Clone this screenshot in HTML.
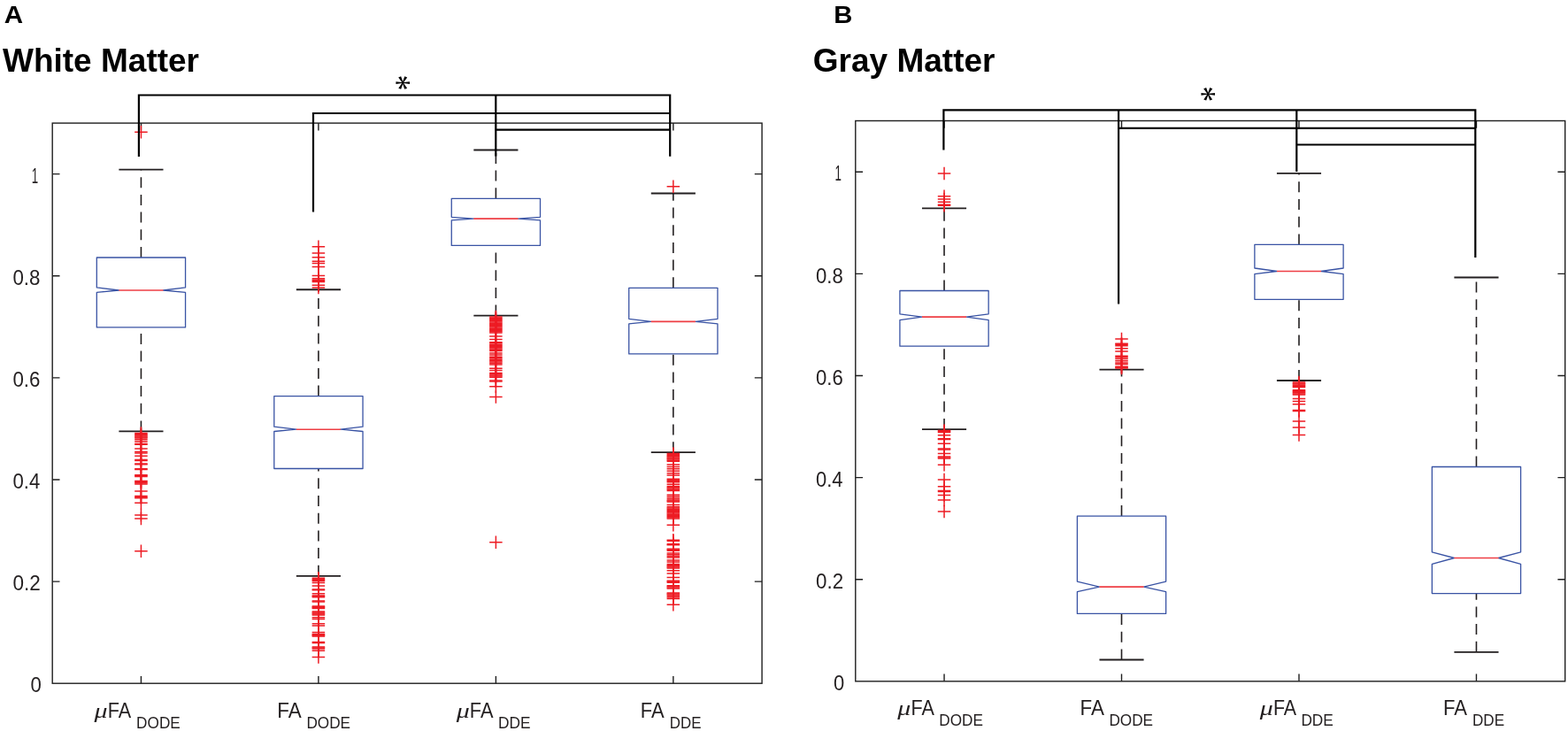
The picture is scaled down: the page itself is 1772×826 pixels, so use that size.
<!DOCTYPE html>
<html lang="en">
<head>
<meta charset="utf-8">
<title>White Matter / Gray Matter boxplots</title>
<style>
html,body{margin:0;padding:0;background:#fff;}
body{width:1772px;height:826px;overflow:hidden;}
svg{display:block;}
</style>
</head>
<body>
<svg width="1772" height="826" viewBox="0 0 1772 826">
<rect width="1772" height="826" fill="#ffffff"/>
<g stroke="#1e1e1e" stroke-width="1.4" fill="none">
<rect x="59.2" y="139.1" width="801.9" height="633.1"/>
<path d="M159.44 772.2V763.9M159.44 139.1V147.4M359.91 772.2V763.9M359.91 139.1V147.4M560.39 772.2V763.9M560.39 139.1V147.4M760.86 772.2V763.9M760.86 139.1V147.4M59.2 657.08H67.5M861.1 657.08H852.8M59.2 541.96H67.5M861.1 541.96H852.8M59.2 426.84H67.5M861.1 426.84H852.8M59.2 311.72H67.5M861.1 311.72H852.8M59.2 196.6H67.5M861.1 196.6H852.8"/>
</g>
<g stroke="#231f20" stroke-width="1.6" fill="none">
<path d="M159.44 291V191.7" stroke-dasharray="12 7.7"/>
<path d="M159.44 487.4V369.9" stroke-dasharray="12 7.7"/>
<path d="M134.38 191.7H184.5M134.38 487.4H184.5" stroke-width="1.8"/>
</g>
<path d="M109.32 291H209.56V324.9L184.5 328L209.56 330.4V369.9H109.32V330.4L134.38 328L109.32 324.9Z" stroke="#3953a4" stroke-width="1.3" fill="none" stroke-linejoin="round"/>
<path d="M134.38 328H184.5" stroke="#ee3e44" stroke-width="1.6" fill="none"/>
<g stroke="#231f20" stroke-width="1.6" fill="none">
<path d="M359.91 447.6V327.25" stroke-dasharray="12 7.7"/>
<path d="M359.91 650.8V529.5" stroke-dasharray="12 7.7"/>
<path d="M334.85 327.25H384.97M334.85 650.8H384.97" stroke-width="1.8"/>
</g>
<path d="M309.79 447.6H410.03V482.2L384.97 485.2L410.03 487.5V529.5H309.79V487.5L334.85 485.2L309.79 482.2Z" stroke="#3953a4" stroke-width="1.3" fill="none" stroke-linejoin="round"/>
<path d="M334.85 485.2H384.97" stroke="#ee3e44" stroke-width="1.6" fill="none"/>
<g stroke="#231f20" stroke-width="1.6" fill="none">
<path d="M560.39 224.3V169.5" stroke-dasharray="12 7.7"/>
<path d="M560.39 356.6V277.4" stroke-dasharray="12 7.7"/>
<path d="M535.33 169.5H585.45M535.33 356.6H585.45" stroke-width="1.8"/>
</g>
<path d="M510.27 224.3H610.51V245.3L585.45 247.1L610.51 248.9V277.4H510.27V248.9L535.33 247.1L510.27 245.3Z" stroke="#3953a4" stroke-width="1.3" fill="none" stroke-linejoin="round"/>
<path d="M535.33 247.1H585.45" stroke="#ee3e44" stroke-width="1.6" fill="none"/>
<g stroke="#231f20" stroke-width="1.6" fill="none">
<path d="M760.86 325.3V218.5" stroke-dasharray="12 7.7"/>
<path d="M760.86 511.2V399.9" stroke-dasharray="12 7.7"/>
<path d="M735.8 218.5H785.92M735.8 511.2H785.92" stroke-width="1.8"/>
</g>
<path d="M710.74 325.3H810.98V360.3L785.92 363.4L810.98 365.9V399.9H710.74V365.9L735.8 363.4L710.74 360.3Z" stroke="#3953a4" stroke-width="1.3" fill="none" stroke-linejoin="round"/>
<path d="M735.8 363.4H785.92" stroke="#ee3e44" stroke-width="1.6" fill="none"/>
<g stroke="#ed1c24" stroke-width="1.5" fill="none">
<path d="M152.19 149.3H166.69M159.44 142.05V156.55"/>
<path d="M152.19 489.6H166.69M159.44 482.35V496.85"/>
<path d="M152.19 490.7H166.69M159.44 483.45V497.95"/>
<path d="M152.19 491.8H166.69M159.44 484.55V499.05"/>
<path d="M152.19 492.9H166.69M159.44 485.65V500.15"/>
<path d="M152.19 494H166.69M159.44 486.75V501.25"/>
<path d="M152.19 495.1H166.69M159.44 487.85V502.35"/>
<path d="M152.19 496.7H166.69M159.44 489.45V503.95"/>
<path d="M152.19 498.9H166.69M159.44 491.65V506.15"/>
<path d="M152.19 501.4H166.69M159.44 494.15V508.65"/>
<path d="M152.19 502.2H166.69M159.44 494.95V509.45"/>
<path d="M152.19 506.9H166.69M159.44 499.65V514.15"/>
<path d="M152.19 510.5H166.69M159.44 503.25V517.75"/>
<path d="M152.19 512H166.69M159.44 504.75V519.25"/>
<path d="M152.19 515.3H166.69M159.44 508.05V522.55"/>
<path d="M152.19 519.6H166.69M159.44 512.35V526.85"/>
<path d="M152.19 520.4H166.69M159.44 513.15V527.65"/>
<path d="M152.19 523.9H166.69M159.44 516.65V531.15"/>
<path d="M152.19 524.7H166.69M159.44 517.45V531.95"/>
<path d="M152.19 529.7H166.69M159.44 522.45V536.95"/>
<path d="M152.19 530.5H166.69M159.44 523.25V537.75"/>
<path d="M152.19 536.7H166.69M159.44 529.45V543.95"/>
<path d="M152.19 537.55H166.69M159.44 530.3V544.8"/>
<path d="M152.19 538.4H166.69M159.44 531.15V545.65"/>
<path d="M152.19 543.4H166.69M159.44 536.15V550.65"/>
<path d="M152.19 544.6H166.69M159.44 537.35V551.85"/>
<path d="M152.19 545.8H166.69M159.44 538.55V553.05"/>
<path d="M152.19 547H166.69M159.44 539.75V554.25"/>
<path d="M152.19 555.1H166.69M159.44 547.85V562.35"/>
<path d="M152.19 560.6H166.69M159.44 553.35V567.85"/>
<path d="M152.19 561.7H166.69M159.44 554.45V568.95"/>
<path d="M152.19 562.8H166.69M159.44 555.55V570.05"/>
<path d="M152.19 568.2H166.69M159.44 560.95V575.45"/>
<path d="M152.19 582.1H166.69M159.44 574.85V589.35"/>
<path d="M152.19 586.1H166.69M159.44 578.85V593.35"/>
<path d="M152.19 622.8H166.69M159.44 615.55V630.05"/>
</g>
<g stroke="#ed1c24" stroke-width="1.5" fill="none">
<path d="M352.66 278.8H367.16M359.91 271.55V286.05"/>
<path d="M352.66 286.1H367.16M359.91 278.85V293.35"/>
<path d="M352.66 290.7H367.16M359.91 283.45V297.95"/>
<path d="M352.66 295.2H367.16M359.91 287.95V302.45"/>
<path d="M352.66 297.4H367.16M359.91 290.15V304.65"/>
<path d="M352.66 301.5H367.16M359.91 294.25V308.75"/>
<path d="M352.66 311.5H367.16M359.91 304.25V318.75"/>
<path d="M352.66 314.7H367.16M359.91 307.45V321.95"/>
<path d="M352.66 316.3H367.16M359.91 309.05V323.55"/>
<path d="M352.66 317.4H367.16M359.91 310.15V324.65"/>
<path d="M352.66 318.5H367.16M359.91 311.25V325.75"/>
<path d="M352.66 322.2H367.16M359.91 314.95V329.45"/>
<path d="M352.66 324.9H367.16M359.91 317.65V332.15"/>
<path d="M352.66 653.3H367.16M359.91 646.05V660.55"/>
<path d="M352.66 654.4H367.16M359.91 647.15V661.65"/>
<path d="M352.66 655.5H367.16M359.91 648.25V662.75"/>
<path d="M352.66 656.6H367.16M359.91 649.35V663.85"/>
<path d="M352.66 658.6H367.16M359.91 651.35V665.85"/>
<path d="M352.66 662.1H367.16M359.91 654.85V669.35"/>
<path d="M352.66 666H367.16M359.91 658.75V673.25"/>
<path d="M352.66 666.8H367.16M359.91 659.55V674.05"/>
<path d="M352.66 670.8H367.16M359.91 663.55V678.05"/>
<path d="M352.66 672.9H367.16M359.91 665.65V680.15"/>
<path d="M352.66 673.8H367.16M359.91 666.55V681.05"/>
<path d="M352.66 674.7H367.16M359.91 667.45V681.95"/>
<path d="M352.66 679.1H367.16M359.91 671.85V686.35"/>
<path d="M352.66 679.9H367.16M359.91 672.65V687.15"/>
<path d="M352.66 684.9H367.16M359.91 677.65V692.15"/>
<path d="M352.66 685.8H367.16M359.91 678.55V693.05"/>
<path d="M352.66 686.7H367.16M359.91 679.45V693.95"/>
<path d="M352.66 687.6H367.16M359.91 680.35V694.85"/>
<path d="M352.66 691.1H367.16M359.91 683.85V698.35"/>
<path d="M352.66 692.05H367.16M359.91 684.8V699.3"/>
<path d="M352.66 693H367.16M359.91 685.75V700.25"/>
<path d="M352.66 693.95H367.16M359.91 686.7V701.2"/>
<path d="M352.66 694.9H367.16M359.91 687.65V702.15"/>
<path d="M352.66 697.8H367.16M359.91 690.55V705.05"/>
<path d="M352.66 699.6H367.16M359.91 692.35V706.85"/>
<path d="M352.66 704.7H367.16M359.91 697.45V711.95"/>
<path d="M352.66 707.1H367.16M359.91 699.85V714.35"/>
<path d="M352.66 714.4H367.16M359.91 707.15V721.65"/>
<path d="M352.66 716.5H367.16M359.91 709.25V723.75"/>
<path d="M352.66 717.35H367.16M359.91 710.1V724.6"/>
<path d="M352.66 718.2H367.16M359.91 710.95V725.45"/>
<path d="M352.66 719.05H367.16M359.91 711.8V726.3"/>
<path d="M352.66 725.6H367.16M359.91 718.35V732.85"/>
<path d="M352.66 726.4H367.16M359.91 719.15V733.65"/>
<path d="M352.66 731H367.16M359.91 723.75V738.25"/>
<path d="M352.66 732H367.16M359.91 724.75V739.25"/>
<path d="M352.66 733H367.16M359.91 725.75V740.25"/>
<path d="M352.66 735.2H367.16M359.91 727.95V742.45"/>
<path d="M352.66 742.4H367.16M359.91 735.15V749.65"/>
</g>
<g stroke="#ed1c24" stroke-width="1.5" fill="none">
<path d="M553.14 358H567.64M560.39 350.75V365.25"/>
<path d="M553.14 359.2H567.64M560.39 351.95V366.45"/>
<path d="M553.14 360.4H567.64M560.39 353.15V367.65"/>
<path d="M553.14 361.6H567.64M560.39 354.35V368.85"/>
<path d="M553.14 362.8H567.64M560.39 355.55V370.05"/>
<path d="M553.14 364H567.64M560.39 356.75V371.25"/>
<path d="M553.14 365.2H567.64M560.39 357.95V372.45"/>
<path d="M553.14 366.4H567.64M560.39 359.15V373.65"/>
<path d="M553.14 367.6H567.64M560.39 360.35V374.85"/>
<path d="M553.14 368.8H567.64M560.39 361.55V376.05"/>
<path d="M553.14 370H567.64M560.39 362.75V377.25"/>
<path d="M553.14 371.2H567.64M560.39 363.95V378.45"/>
<path d="M553.14 372.4H567.64M560.39 365.15V379.65"/>
<path d="M553.14 373.6H567.64M560.39 366.35V380.85"/>
<path d="M553.14 374.8H567.64M560.39 367.55V382.05"/>
<path d="M553.14 376H567.64M560.39 368.75V383.25"/>
<path d="M553.14 379.9H567.64M560.39 372.65V387.15"/>
<path d="M553.14 383.5H567.64M560.39 376.25V390.75"/>
<path d="M553.14 386.8H567.64M560.39 379.55V394.05"/>
<path d="M553.14 387.8H567.64M560.39 380.55V395.05"/>
<path d="M553.14 389.2H567.64M560.39 381.95V396.45"/>
<path d="M553.14 390.4H567.64M560.39 383.15V397.65"/>
<path d="M553.14 391.6H567.64M560.39 384.35V398.85"/>
<path d="M553.14 392.8H567.64M560.39 385.55V400.05"/>
<path d="M553.14 394H567.64M560.39 386.75V401.25"/>
<path d="M553.14 395.2H567.64M560.39 387.95V402.45"/>
<path d="M553.14 396.4H567.64M560.39 389.15V403.65"/>
<path d="M553.14 399H567.64M560.39 391.75V406.25"/>
<path d="M553.14 400.9H567.64M560.39 393.65V408.15"/>
<path d="M553.14 403.3H567.64M560.39 396.05V410.55"/>
<path d="M553.14 404.75H567.64M560.39 397.5V412"/>
<path d="M553.14 406.2H567.64M560.39 398.95V413.45"/>
<path d="M553.14 407.65H567.64M560.39 400.4V414.9"/>
<path d="M553.14 409.1H567.64M560.39 401.85V416.35"/>
<path d="M553.14 410.55H567.64M560.39 403.3V417.8"/>
<path d="M553.14 412H567.64M560.39 404.75V419.25"/>
<path d="M553.14 416.2H567.64M560.39 408.95V423.45"/>
<path d="M553.14 418.4H567.64M560.39 411.15V425.65"/>
<path d="M553.14 421.5H567.64M560.39 414.25V428.75"/>
<path d="M553.14 422.7H567.64M560.39 415.45V429.95"/>
<path d="M553.14 423.9H567.64M560.39 416.65V431.15"/>
<path d="M553.14 425.1H567.64M560.39 417.85V432.35"/>
<path d="M553.14 426.3H567.64M560.39 419.05V433.55"/>
<path d="M553.14 430H567.64M560.39 422.75V437.25"/>
<path d="M553.14 431H567.64M560.39 423.75V438.25"/>
<path d="M553.14 436.8H567.64M560.39 429.55V444.05"/>
<path d="M553.14 448.4H567.64M560.39 441.15V455.65"/>
<path d="M553.14 612.7H567.64M560.39 605.45V619.95"/>
</g>
<g stroke="#ed1c24" stroke-width="1.5" fill="none">
<path d="M753.61 210.8H768.11M760.86 203.55V218.05"/>
<path d="M753.61 512.5H768.11M760.86 505.25V519.75"/>
<path d="M753.61 513.6H768.11M760.86 506.35V520.85"/>
<path d="M753.61 514.7H768.11M760.86 507.45V521.95"/>
<path d="M753.61 515.8H768.11M760.86 508.55V523.05"/>
<path d="M753.61 516.9H768.11M760.86 509.65V524.15"/>
<path d="M753.61 518H768.11M760.86 510.75V525.25"/>
<path d="M753.61 519.1H768.11M760.86 511.85V526.35"/>
<path d="M753.61 520.2H768.11M760.86 512.95V527.45"/>
<path d="M753.61 521.3H768.11M760.86 514.05V528.55"/>
<path d="M753.61 524.9H768.11M760.86 517.65V532.15"/>
<path d="M753.61 527.5H768.11M760.86 520.25V534.75"/>
<path d="M753.61 529.7H768.11M760.86 522.45V536.95"/>
<path d="M753.61 532.2H768.11M760.86 524.95V539.45"/>
<path d="M753.61 534.8H768.11M760.86 527.55V542.05"/>
<path d="M753.61 537H768.11M760.86 529.75V544.25"/>
<path d="M753.61 541.2H768.11M760.86 533.95V548.45"/>
<path d="M753.61 542.4H768.11M760.86 535.15V549.65"/>
<path d="M753.61 543.6H768.11M760.86 536.35V550.85"/>
<path d="M753.61 544.8H768.11M760.86 537.55V552.05"/>
<path d="M753.61 547.2H768.11M760.86 539.95V554.45"/>
<path d="M753.61 549.6H768.11M760.86 542.35V556.85"/>
<path d="M753.61 550.8H768.11M760.86 543.55V558.05"/>
<path d="M753.61 552H768.11M760.86 544.75V559.25"/>
<path d="M753.61 553.2H768.11M760.86 545.95V560.45"/>
<path d="M753.61 554.4H768.11M760.86 547.15V561.65"/>
<path d="M753.61 559.3H768.11M760.86 552.05V566.55"/>
<path d="M753.61 561.2H768.11M760.86 553.95V568.45"/>
<path d="M753.61 563.2H768.11M760.86 555.95V570.45"/>
<path d="M753.61 564.9H768.11M760.86 557.65V572.15"/>
<path d="M753.61 565.9H768.11M760.86 558.65V573.15"/>
<path d="M753.61 566.9H768.11M760.86 559.65V574.15"/>
<path d="M753.61 570.5H768.11M760.86 563.25V577.75"/>
<path d="M753.61 572.8H768.11M760.86 565.55V580.05"/>
<path d="M753.61 574H768.11M760.86 566.75V581.25"/>
<path d="M753.61 575.2H768.11M760.86 567.95V582.45"/>
<path d="M753.61 576.4H768.11M760.86 569.15V583.65"/>
<path d="M753.61 577.6H768.11M760.86 570.35V584.85"/>
<path d="M753.61 578.8H768.11M760.86 571.55V586.05"/>
<path d="M753.61 580H768.11M760.86 572.75V587.25"/>
<path d="M753.61 581.2H768.11M760.86 573.95V588.45"/>
<path d="M753.61 582.4H768.11M760.86 575.15V589.65"/>
<path d="M753.61 583.6H768.11M760.86 576.35V590.85"/>
<path d="M753.61 584.8H768.11M760.86 577.55V592.05"/>
<path d="M753.61 586H768.11M760.86 578.75V593.25"/>
<path d="M753.61 593.3H768.11M760.86 586.05V600.55"/>
<path d="M753.61 610.3H768.11M760.86 603.05V617.55"/>
<path d="M753.61 611.3H768.11M760.86 604.05V618.55"/>
<path d="M753.61 614.7H768.11M760.86 607.45V621.95"/>
<path d="M753.61 615.7H768.11M760.86 608.45V622.95"/>
<path d="M753.61 620.2H768.11M760.86 612.95V627.45"/>
<path d="M753.61 621.2H768.11M760.86 613.95V628.45"/>
<path d="M753.61 622.2H768.11M760.86 614.95V629.45"/>
<path d="M753.61 625H768.11M760.86 617.75V632.25"/>
<path d="M753.61 626.8H768.11M760.86 619.55V634.05"/>
<path d="M753.61 628.6H768.11M760.86 621.35V635.85"/>
<path d="M753.61 630H768.11M760.86 622.75V637.25"/>
<path d="M753.61 633H768.11M760.86 625.75V640.25"/>
<path d="M753.61 635H768.11M760.86 627.75V642.25"/>
<path d="M753.61 637.6H768.11M760.86 630.35V644.85"/>
<path d="M753.61 638.7H768.11M760.86 631.45V645.95"/>
<path d="M753.61 639.8H768.11M760.86 632.55V647.05"/>
<path d="M753.61 640.9H768.11M760.86 633.65V648.15"/>
<path d="M753.61 642H768.11M760.86 634.75V649.25"/>
<path d="M753.61 644.7H768.11M760.86 637.45V651.95"/>
<path d="M753.61 648H768.11M760.86 640.75V655.25"/>
<path d="M753.61 652.4H768.11M760.86 645.15V659.65"/>
<path d="M753.61 656.2H768.11M760.86 648.95V663.45"/>
<path d="M753.61 657.2H768.11M760.86 649.95V664.45"/>
<path d="M753.61 658.2H768.11M760.86 650.95V665.45"/>
<path d="M753.61 661.7H768.11M760.86 654.45V668.95"/>
<path d="M753.61 662.8H768.11M760.86 655.55V670.05"/>
<path d="M753.61 663.9H768.11M760.86 656.65V671.15"/>
<path d="M753.61 665H768.11M760.86 657.75V672.25"/>
<path d="M753.61 670H768.11M760.86 662.75V677.25"/>
<path d="M753.61 671H768.11M760.86 663.75V678.25"/>
<path d="M753.61 672H768.11M760.86 664.75V679.25"/>
<path d="M753.61 673.6H768.11M760.86 666.35V680.85"/>
<path d="M753.61 675H768.11M760.86 667.75V682.25"/>
<path d="M753.61 676.4H768.11M760.86 669.15V683.65"/>
<path d="M753.61 683.3H768.11M760.86 676.05V690.55"/>
</g>
<g stroke="#000000" stroke-width="2.2" fill="none" stroke-linejoin="miter">
<path d="M156.9 176.9V107.5H757.2V176.8M560.3 107.5V176.6"/>
<path d="M354 239.6V128H757.2"/>
<path d="M560.3 146.7H757.2"/>
</g>
<g stroke="#1e1e1e" stroke-width="1.4" fill="none">
<rect x="966.8" y="136.5" width="801.9" height="633.35"/>
<path d="M1067.04 769.85V761.55M1067.04 136.5V144.8M1267.51 769.85V761.55M1267.51 136.5V144.8M1467.99 769.85V761.55M1467.99 136.5V144.8M1668.46 769.85V761.55M1668.46 136.5V144.8M966.8 654.73H975.1M1768.7 654.73H1760.4M966.8 539.61H975.1M1768.7 539.61H1760.4M966.8 424.49H975.1M1768.7 424.49H1760.4M966.8 309.37H975.1M1768.7 309.37H1760.4M966.8 194.25H975.1M1768.7 194.25H1760.4"/>
</g>
<g stroke="#231f20" stroke-width="1.6" fill="none">
<path d="M1067.04 328.5V235.3" stroke-dasharray="12 7.7"/>
<path d="M1067.04 485.1V391.2" stroke-dasharray="12 7.7"/>
<path d="M1041.98 235.3H1092.1M1041.98 485.1H1092.1" stroke-width="1.8"/>
</g>
<path d="M1016.92 328.5H1117.16V354.8L1092.1 358.1L1117.16 361.6V391.2H1016.92V361.6L1041.98 358.1L1016.92 354.8Z" stroke="#3953a4" stroke-width="1.3" fill="none" stroke-linejoin="round"/>
<path d="M1041.98 358.1H1092.1" stroke="#ee3e44" stroke-width="1.6" fill="none"/>
<g stroke="#231f20" stroke-width="1.6" fill="none">
<path d="M1267.51 583.1V417.6" stroke-dasharray="12 7.7"/>
<path d="M1267.51 745.5V693.4" stroke-dasharray="12 7.7"/>
<path d="M1242.45 417.6H1292.57M1242.45 745.5H1292.57" stroke-width="1.8"/>
</g>
<path d="M1217.39 583.1H1317.63V657.1L1292.57 663.1L1317.63 668.6V693.4H1217.39V668.6L1242.45 663.1L1217.39 657.1Z" stroke="#3953a4" stroke-width="1.3" fill="none" stroke-linejoin="round"/>
<path d="M1242.45 663.1H1292.57" stroke="#ee3e44" stroke-width="1.6" fill="none"/>
<g stroke="#231f20" stroke-width="1.6" fill="none">
<path d="M1467.99 276.4V195.8" stroke-dasharray="12 7.7"/>
<path d="M1467.99 430V338.3" stroke-dasharray="12 7.7"/>
<path d="M1442.93 195.8H1493.05M1442.93 430H1493.05" stroke-width="1.8"/>
</g>
<path d="M1417.87 276.4H1518.11V303L1493.05 306.5L1518.11 309.7V338.3H1417.87V309.7L1442.93 306.5L1417.87 303Z" stroke="#3953a4" stroke-width="1.3" fill="none" stroke-linejoin="round"/>
<path d="M1442.93 306.5H1493.05" stroke="#ee3e44" stroke-width="1.6" fill="none"/>
<g stroke="#231f20" stroke-width="1.6" fill="none">
<path d="M1668.46 527.5V313.5" stroke-dasharray="12 7.7"/>
<path d="M1668.46 736.8V670.6" stroke-dasharray="12 7.7"/>
<path d="M1643.4 313.5H1693.52M1643.4 736.8H1693.52" stroke-width="1.8"/>
</g>
<path d="M1618.34 527.5H1718.58V623.8L1693.52 630.5L1718.58 637.3V670.6H1618.34V637.3L1643.4 630.5L1618.34 623.8Z" stroke="#3953a4" stroke-width="1.3" fill="none" stroke-linejoin="round"/>
<path d="M1643.4 630.5H1693.52" stroke="#ee3e44" stroke-width="1.6" fill="none"/>
<g stroke="#ed1c24" stroke-width="1.5" fill="none">
<path d="M1059.79 196.1H1074.29M1067.04 188.85V203.35"/>
<path d="M1059.79 221.7H1074.29M1067.04 214.45V228.95"/>
<path d="M1059.79 224.9H1074.29M1067.04 217.65V232.15"/>
<path d="M1059.79 228.3H1074.29M1067.04 221.05V235.55"/>
<path d="M1059.79 231.2H1074.29M1067.04 223.95V238.45"/>
<path d="M1059.79 232.2H1074.29M1067.04 224.95V239.45"/>
<path d="M1059.79 486.6H1074.29M1067.04 479.35V493.85"/>
<path d="M1059.79 487.5H1074.29M1067.04 480.25V494.75"/>
<path d="M1059.79 488.4H1074.29M1067.04 481.15V495.65"/>
<path d="M1059.79 491.8H1074.29M1067.04 484.55V499.05"/>
<path d="M1059.79 495.8H1074.29M1067.04 488.55V503.05"/>
<path d="M1059.79 496.6H1074.29M1067.04 489.35V503.85"/>
<path d="M1059.79 501.2H1074.29M1067.04 493.95V508.45"/>
<path d="M1059.79 507.1H1074.29M1067.04 499.85V514.35"/>
<path d="M1059.79 507.9H1074.29M1067.04 500.65V515.15"/>
<path d="M1059.79 512.6H1074.29M1067.04 505.35V519.85"/>
<path d="M1059.79 516.1H1074.29M1067.04 508.85V523.35"/>
<path d="M1059.79 517H1074.29M1067.04 509.75V524.25"/>
<path d="M1059.79 518H1074.29M1067.04 510.75V525.25"/>
<path d="M1059.79 525.2H1074.29M1067.04 517.95V532.45"/>
<path d="M1059.79 541.9H1074.29M1067.04 534.65V549.15"/>
<path d="M1059.79 549.8H1074.29M1067.04 542.55V557.05"/>
<path d="M1059.79 554.6H1074.29M1067.04 547.35V561.85"/>
<path d="M1059.79 555.4H1074.29M1067.04 548.15V562.65"/>
<path d="M1059.79 559.4H1074.29M1067.04 552.15V566.65"/>
<path d="M1059.79 564.9H1074.29M1067.04 557.65V572.15"/>
<path d="M1059.79 578H1074.29M1067.04 570.75V585.25"/>
</g>
<g stroke="#ed1c24" stroke-width="1.5" fill="none">
<path d="M1260.26 382.9H1274.76M1267.51 375.65V390.15"/>
<path d="M1260.26 388.2H1274.76M1267.51 380.95V395.45"/>
<path d="M1260.26 389.3H1274.76M1267.51 382.05V396.55"/>
<path d="M1260.26 390.7H1274.76M1267.51 383.45V397.95"/>
<path d="M1260.26 393.8H1274.76M1267.51 386.55V401.05"/>
<path d="M1260.26 396.9H1274.76M1267.51 389.65V404.15"/>
<path d="M1260.26 402.3H1274.76M1267.51 395.05V409.55"/>
<path d="M1260.26 403.8H1274.76M1267.51 396.55V411.05"/>
<path d="M1260.26 405.6H1274.76M1267.51 398.35V412.85"/>
<path d="M1260.26 407.8H1274.76M1267.51 400.55V415.05"/>
<path d="M1260.26 410H1274.76M1267.51 402.75V417.25"/>
<path d="M1260.26 411.6H1274.76M1267.51 404.35V418.85"/>
<path d="M1260.26 414.3H1274.76M1267.51 407.05V421.55"/>
<path d="M1260.26 415.2H1274.76M1267.51 407.95V422.45"/>
<path d="M1260.26 416.1H1274.76M1267.51 408.85V423.35"/>
</g>
<g stroke="#ed1c24" stroke-width="1.5" fill="none">
<path d="M1460.74 432H1475.24M1467.99 424.75V439.25"/>
<path d="M1460.74 433H1475.24M1467.99 425.75V440.25"/>
<path d="M1460.74 434H1475.24M1467.99 426.75V441.25"/>
<path d="M1460.74 435.3H1475.24M1467.99 428.05V442.55"/>
<path d="M1460.74 436.5H1475.24M1467.99 429.25V443.75"/>
<path d="M1460.74 437.6H1475.24M1467.99 430.35V444.85"/>
<path d="M1460.74 440.7H1475.24M1467.99 433.45V447.95"/>
<path d="M1460.74 441.75H1475.24M1467.99 434.5V449"/>
<path d="M1460.74 442.8H1475.24M1467.99 435.55V450.05"/>
<path d="M1460.74 443.85H1475.24M1467.99 436.6V451.1"/>
<path d="M1460.74 444.9H1475.24M1467.99 437.65V452.15"/>
<path d="M1460.74 445.95H1475.24M1467.99 438.7V453.2"/>
<path d="M1460.74 450.4H1475.24M1467.99 443.15V457.65"/>
<path d="M1460.74 453.6H1475.24M1467.99 446.35V460.85"/>
<path d="M1460.74 456.8H1475.24M1467.99 449.55V464.05"/>
<path d="M1460.74 463.6H1475.24M1467.99 456.35V470.85"/>
<path d="M1460.74 464.4H1475.24M1467.99 457.15V471.65"/>
<path d="M1460.74 476.1H1475.24M1467.99 468.85V483.35"/>
<path d="M1460.74 483.1H1475.24M1467.99 475.85V490.35"/>
<path d="M1460.74 491.6H1475.24M1467.99 484.35V498.85"/>
</g>
<g stroke="#000000" stroke-width="2.2" fill="none" stroke-linejoin="miter">
<path d="M1066.4 169.6V124.3H1667.3V290.9M1264.1 124.3V343.6M1465.3 124.3V194"/>
<path d="M1264.1 144.8H1667.3"/>
<path d="M1465.3 163.5H1667.3"/>
</g>
<text x="4.69" y="26.2" font-family="'Liberation Sans', Arial, Helvetica, sans-serif" font-size="27.5" fill="#000000" font-weight="bold" textLength="21.35" lengthAdjust="spacingAndGlyphs">A</text>
<text x="3" y="80.7" font-family="'Liberation Sans', Arial, Helvetica, sans-serif" font-size="37" fill="#000000" font-weight="bold">White Matter</text>
<text x="942.24" y="25.9" font-family="'Liberation Sans', Arial, Helvetica, sans-serif" font-size="27.5" fill="#000000" font-weight="bold" textLength="21.12" lengthAdjust="spacingAndGlyphs">B</text>
<text x="918.8" y="80.7" font-family="'Liberation Sans', Arial, Helvetica, sans-serif" font-size="37" fill="#000000" font-weight="bold">Gray Matter</text>
<text x="34.54" y="782.4" font-family="'Liberation Sans', Arial, Helvetica, sans-serif" font-size="23" fill="#231f20" textLength="12.33" lengthAdjust="spacingAndGlyphs">0</text>
<text x="942.05" y="780.05" font-family="'Liberation Sans', Arial, Helvetica, sans-serif" font-size="23" fill="#231f20" textLength="12.22" lengthAdjust="spacingAndGlyphs">0</text>
<text x="14.42" y="667.28" font-family="'Liberation Sans', Arial, Helvetica, sans-serif" font-size="23" fill="#231f20" textLength="31.29" lengthAdjust="spacingAndGlyphs">0.2</text>
<text x="922.03" y="664.93" font-family="'Liberation Sans', Arial, Helvetica, sans-serif" font-size="23" fill="#231f20" textLength="31.07" lengthAdjust="spacingAndGlyphs">0.2</text>
<text x="14.44" y="552.16" font-family="'Liberation Sans', Arial, Helvetica, sans-serif" font-size="23" fill="#231f20" textLength="30.77" lengthAdjust="spacingAndGlyphs">0.4</text>
<text x="922.04" y="549.81" font-family="'Liberation Sans', Arial, Helvetica, sans-serif" font-size="23" fill="#231f20" textLength="30.56" lengthAdjust="spacingAndGlyphs">0.4</text>
<text x="14.43" y="437.04" font-family="'Liberation Sans', Arial, Helvetica, sans-serif" font-size="23" fill="#231f20" textLength="31.02" lengthAdjust="spacingAndGlyphs">0.6</text>
<text x="922.04" y="434.69" font-family="'Liberation Sans', Arial, Helvetica, sans-serif" font-size="23" fill="#231f20" textLength="30.81" lengthAdjust="spacingAndGlyphs">0.6</text>
<text x="14.43" y="321.92" font-family="'Liberation Sans', Arial, Helvetica, sans-serif" font-size="23" fill="#231f20" textLength="31.02" lengthAdjust="spacingAndGlyphs">0.8</text>
<text x="922.04" y="319.57" font-family="'Liberation Sans', Arial, Helvetica, sans-serif" font-size="23" fill="#231f20" textLength="30.81" lengthAdjust="spacingAndGlyphs">0.8</text>
<text x="35.78" y="206.8" font-family="'Liberation Sans', Arial, Helvetica, sans-serif" font-size="23" fill="#231f20" textLength="7.42" lengthAdjust="spacingAndGlyphs">1</text>
<text x="943.38" y="204.45" font-family="'Liberation Sans', Arial, Helvetica, sans-serif" font-size="23" fill="#231f20" textLength="7.42" lengthAdjust="spacingAndGlyphs">1</text>
<text><tspan x="106.5" y="810.6" font-family="'Liberation Serif', 'Times New Roman', serif" font-size="23" fill="#231f20" font-style="italic" textLength="15.04" lengthAdjust="spacingAndGlyphs">μ</tspan><tspan x="121.66" y="810.6" font-family="'Liberation Sans', Arial, Helvetica, sans-serif" font-size="23.5" fill="#231f20" textLength="26.42" lengthAdjust="spacingAndGlyphs">FA</tspan> <tspan x="154.11" y="822.85" font-family="'Liberation Sans', Arial, Helvetica, sans-serif" font-size="18.5" fill="#231f20" textLength="49.65" lengthAdjust="spacingAndGlyphs">DODE</tspan></text>
<text><tspan x="313.29" y="810.6" font-family="'Liberation Sans', Arial, Helvetica, sans-serif" font-size="23.5" fill="#231f20" textLength="27.39" lengthAdjust="spacingAndGlyphs">FA</tspan> <tspan x="346.41" y="822.85" font-family="'Liberation Sans', Arial, Helvetica, sans-serif" font-size="18.5" fill="#231f20" textLength="49.65" lengthAdjust="spacingAndGlyphs">DODE</tspan></text>
<text><tspan x="515.7" y="810.6" font-family="'Liberation Serif', 'Times New Roman', serif" font-size="23" fill="#231f20" font-style="italic" textLength="15.04" lengthAdjust="spacingAndGlyphs">μ</tspan><tspan x="530.85" y="810.6" font-family="'Liberation Sans', Arial, Helvetica, sans-serif" font-size="23.5" fill="#231f20" textLength="26.64" lengthAdjust="spacingAndGlyphs">FA</tspan> <tspan x="563.1" y="822.85" font-family="'Liberation Sans', Arial, Helvetica, sans-serif" font-size="18.5" fill="#231f20" textLength="36.56" lengthAdjust="spacingAndGlyphs">DDE</tspan></text>
<text><tspan x="723.73" y="810.6" font-family="'Liberation Sans', Arial, Helvetica, sans-serif" font-size="23.5" fill="#231f20" textLength="26.85" lengthAdjust="spacingAndGlyphs">FA</tspan> <tspan x="756.83" y="822.85" font-family="'Liberation Sans', Arial, Helvetica, sans-serif" font-size="18.5" fill="#231f20" textLength="35.71" lengthAdjust="spacingAndGlyphs">DDE</tspan></text>
<text><tspan x="1014.3" y="808.2" font-family="'Liberation Serif', 'Times New Roman', serif" font-size="23" fill="#231f20" font-style="italic" textLength="15.04" lengthAdjust="spacingAndGlyphs">μ</tspan><tspan x="1029.46" y="808.2" font-family="'Liberation Sans', Arial, Helvetica, sans-serif" font-size="23.5" fill="#231f20" textLength="26.42" lengthAdjust="spacingAndGlyphs">FA</tspan> <tspan x="1061.31" y="820.45" font-family="'Liberation Sans', Arial, Helvetica, sans-serif" font-size="18.5" fill="#231f20" textLength="49.65" lengthAdjust="spacingAndGlyphs">DODE</tspan></text>
<text><tspan x="1220.59" y="808.2" font-family="'Liberation Sans', Arial, Helvetica, sans-serif" font-size="23.5" fill="#231f20" textLength="27.39" lengthAdjust="spacingAndGlyphs">FA</tspan> <tspan x="1253.41" y="820.45" font-family="'Liberation Sans', Arial, Helvetica, sans-serif" font-size="18.5" fill="#231f20" textLength="49.65" lengthAdjust="spacingAndGlyphs">DODE</tspan></text>
<text><tspan x="1423.7" y="808.2" font-family="'Liberation Serif', 'Times New Roman', serif" font-size="23" fill="#231f20" font-style="italic" textLength="15.04" lengthAdjust="spacingAndGlyphs">μ</tspan><tspan x="1438.88" y="808.2" font-family="'Liberation Sans', Arial, Helvetica, sans-serif" font-size="23.5" fill="#231f20" textLength="26.21" lengthAdjust="spacingAndGlyphs">FA</tspan> <tspan x="1470.4" y="820.45" font-family="'Liberation Sans', Arial, Helvetica, sans-serif" font-size="18.5" fill="#231f20" textLength="36.46" lengthAdjust="spacingAndGlyphs">DDE</tspan></text>
<text><tspan x="1631.02" y="808.2" font-family="'Liberation Sans', Arial, Helvetica, sans-serif" font-size="23.5" fill="#231f20" textLength="26.96" lengthAdjust="spacingAndGlyphs">FA</tspan> <tspan x="1663.91" y="820.45" font-family="'Liberation Sans', Arial, Helvetica, sans-serif" font-size="18.5" fill="#231f20" textLength="36.14" lengthAdjust="spacingAndGlyphs">DDE</tspan></text>
<text transform="translate(454.8 93.4) rotate(90) scale(0.9 1.04)" x="-10" y="18.9" font-family="'Liberation Serif', 'Times New Roman', serif" font-size="40" fill="#000000">*</text>
<text transform="translate(1364.9 106.2) rotate(90) scale(0.9 1.04)" x="-10" y="18.9" font-family="'Liberation Serif', 'Times New Roman', serif" font-size="40" fill="#000000">*</text>
</svg>
</body>
</html>
